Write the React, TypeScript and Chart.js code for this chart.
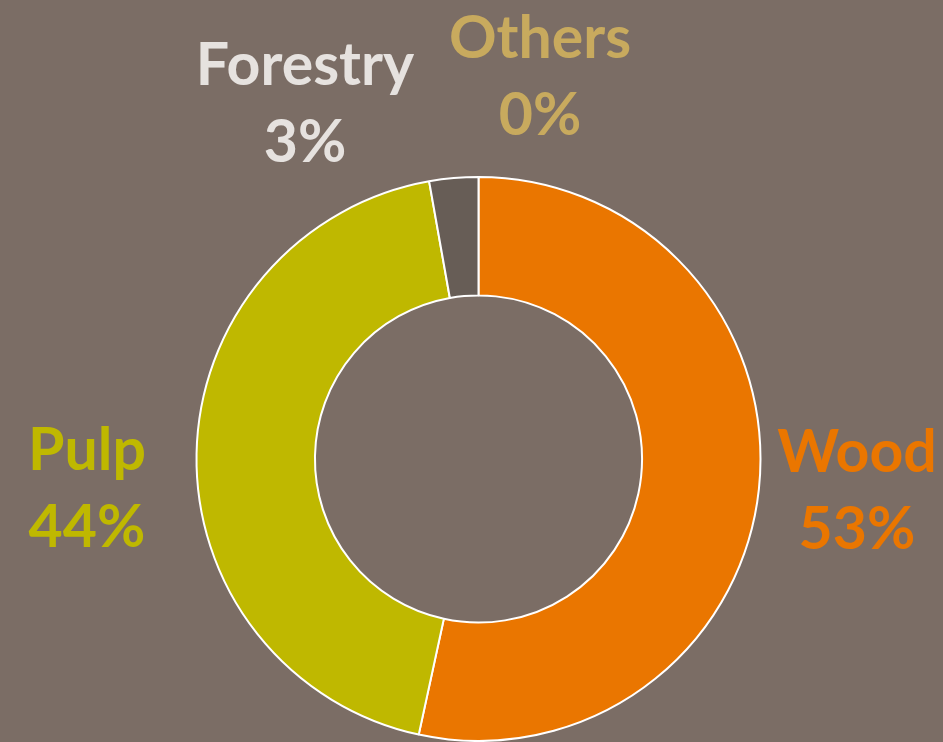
import React, { useEffect, useRef } from "react";
import { Chart, registerables } from "chart.js";

Chart.register(...registerables);

const categories = ["Wood", "Pulp", "Forestry", "Others"];
const shares = [53.4, 43.8, 2.8, 0];
const sliceColors = ["#EA7600", "#BFB800", "#675D56", "#C8AA5E"];
const labelColors = ["#EA7600", "#BFB800", "#E6E2DF", "#C8AA5E"];

const BG = "#7B6D65";

// label anchor layout (center x, first baseline y)
const labelAnchors = [
  { x: 857, y: 472 },
  { x: 87, y: 470 },
  { x: 305, y: 85 },
  { x: 540, y: 58 },
];

const labelPlugin = {
  id: "outsideLabels",
  afterDraw(chart: any) {
    const ctx = chart.ctx;
    const data = chart.data.datasets[0].data as number[];
    const total = data.reduce((a, b) => a + b, 0);
    ctx.save();
    ctx.font = "bold 59px Lato";
    ctx.textAlign = "center";
    ctx.textBaseline = "alphabetic";
    data.forEach((v, i) => {
      const a = labelAnchors[i];
      ctx.fillStyle = labelColors[i];
      ctx.fillText(String(chart.data.labels[i]), a.x, a.y);
      ctx.fillText(Math.round((v / total) * 100) + "%", a.x, a.y + 77);
    });
    ctx.restore();
  },
};

export default function App() {
  const ref = useRef<HTMLCanvasElement>(null);
  useEffect(() => {
    const chart = new Chart(ref.current!, {
      type: "doughnut",
      data: {
        labels: categories,
        datasets: [
          {
            data: shares,
            backgroundColor: sliceColors,
            borderColor: "#FFFFFF",
            borderWidth: 2,
          },
        ],
      },
      options: {
        animation: false,
        responsive: false,
        maintainAspectRatio: false,
        cutout: "58%",
        layout: { padding: { top: 176, bottom: 0, left: 195, right: 181 } },
        plugins: { legend: { display: false }, tooltip: { enabled: false } },
      },
      plugins: [labelPlugin],
    });
    return () => chart.destroy();
  }, []);
  return (
    <div
      style={{
        position: "fixed",
        left: 0,
        top: 0,
        width: 943,
        height: 742,
        background: BG,
        overflow: "hidden",
      }}
    >
      <canvas ref={ref} width={943} height={742} style={{ display: "block" }} />
    </div>
  );
}
